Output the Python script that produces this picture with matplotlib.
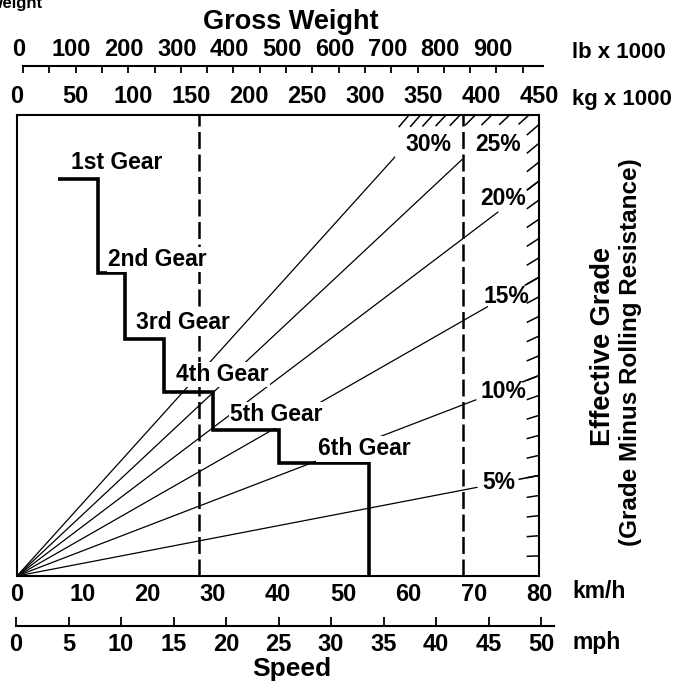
import numpy as np
import matplotlib
matplotlib.use('Agg')
import matplotlib.pyplot as plt
from matplotlib.transforms import ScaledTranslation

plt.rcParams['font.family'] = ['Liberation Sans', 'DejaVu Sans']
plt.rcParams['font.weight'] = 'bold'

FW, FH = 677, 686

# scales (x 1000 for weights)
kg_ticks = list(range(0, 451, 50))
lb_major = list(range(0, 901, 100))
lb_minor = list(range(50, 951, 100))
kmh_ticks = list(range(0, 81, 10))
mph_ticks = list(range(0, 51, 5))

# rimpull chart: gear steps (km/h break points, rimpull per gear)
gear_names = ['1st Gear', '2nd Gear', '3rd Gear', '4th Gear', '5th Gear', '6th Gear']
gear_speed = [6.3, 12.4, 16.6, 22.5, 30.0, 40.2, 53.9]
gear_rimpull = [88.8, 67.6, 53.0, 41.2, 32.7, 25.3]
gear_label_speed = [15.3, 21.5, 25.4, 31.4, 39.8, 53.2]
gear_label_rimpull = [92.4, 70.7, 56.6, 45.0, 36.0, 28.4]

# effective grade lines
grades = [5, 10, 15, 20, 25, 30]
grade_end_kg = [397, 396, 406, 415, 384, 326]
grade_label_kg = [415.5, 419, 421.6, 419, 414.7, 354.3]
grade_label_rimpull = [20.8, 41.2, 62.4, 84.3, 96.4, 96.4]
connector_grades = [5, 10, 15, 20]
connector_start_kg = [433, 436, 438, 440]
scale_grades = list(range(1, 33))

# vertical reference weights
ref_weights_kg = [157, 384.5]

KG_MAX, Y_MAX = 450, 103.0


def rimpull(w, g):
    g = g / 100.0
    return np.asarray(w) * g / np.sqrt(1 + g * g)


def edge_weight(g):
    gg = g / 100.0
    return min(KG_MAX, Y_MAX * np.sqrt(1 + gg * gg) / gg)


def rect(left, top, width, height):
    return [left / FW, (FH - top - height) / FH, width / FW, height / FH]


fig = plt.figure(figsize=(FW / 100, FH / 100), dpi=100)

# main box: weight (kg) horizontally, rimpull vertically
ax = fig.add_axes(rect(17, 115, 522, 461))
ax.set_xlim(0, KG_MAX)
ax.set_ylim(0, Y_MAX)
for s in ax.spines.values():
    s.set_linewidth(1.5)
ax.set_yticks([])
ax.xaxis.tick_top()
ax.set_xticks(kg_ticks)
ax.set_xticklabels([str(t) for t in kg_ticks])
ax.tick_params(axis='x', length=0, pad=5, labelsize=17)

for g, w_end in zip(grades, grade_end_kg):
    w = np.array([0, w_end])
    ax.plot(w, rimpull(w, g), color='black', lw=0.9, solid_capstyle='butt')

for g in scale_grades:
    we = edge_weight(g)
    dw = 10 if we >= KG_MAX else 8.5
    w = np.array([we - dw, we])
    ax.plot(w, rimpull(w, g), color='black', lw=1.1, clip_on=False)

for g, ws in zip(connector_grades, connector_start_kg):
    w = np.array([ws, KG_MAX])
    ax.plot(w, rimpull(w, g), color='black', lw=1.1)

for g, lx, ly in zip(grades, grade_label_kg, grade_label_rimpull):
    ax.text(lx, ly, f'{g}%', ha='center', va='center', fontsize=16.5)

for wk in ref_weights_kg:
    ax.axvline(wk, color='black', lw=1.8, dashes=(6.8, 2.2))

# speed overlay for the gear steps
axs = fig.add_axes(rect(17, 115, 522, 461), frameon=False)
axs.set_xlim(0, 80)
axs.set_ylim(0, Y_MAX)
axs.set_yticks([])
axs.set_xticks(kmh_ticks)
axs.set_xticklabels([str(t) for t in kmh_ticks])
axs.tick_params(axis='x', length=0, pad=5, labelsize=17)

sx = [gear_speed[0]]
sy = [gear_rimpull[0]]
for i, r in enumerate(gear_rimpull):
    sx += [gear_speed[i + 1]]
    sy += [r]
    nxt = gear_rimpull[i + 1] if i + 1 < len(gear_rimpull) else 0
    sx += [gear_speed[i + 1]]
    sy += [nxt]
axs.plot(sx, sy, color='black', lw=2.6, solid_joinstyle='miter', solid_capstyle='butt', zorder=3)

for name, gx, gy in zip(gear_names, gear_label_speed, gear_label_rimpull):
    axs.text(gx, gy, name, ha='center', va='center', fontsize=16.5, zorder=4,
             bbox=dict(facecolor='white', edgecolor='none', pad=1.0))

# lb scale on top
ax_lb = fig.add_axes(rect(23, 66, 520, 0.5))
ax_lb.set_xlim(0, 520 / 0.526)
ax_lb.set_yticks([])
for k in ['left', 'right', 'bottom']:
    ax_lb.spines[k].set_visible(False)
ax_lb.spines['top'].set_linewidth(1.5)
ax_lb.xaxis.tick_top()
ax_lb.set_xticks(lb_major)
ax_lb.set_xticklabels([str(t) for t in lb_major])
ax_lb.set_xticks(lb_minor, minor=True)
ax_lb.tick_params(axis='x', which='both', direction='in', length=5, width=1.3,
                  pad=3.5, labelsize=17)
shift = ScaledTranslation(-4 / 100, 0, fig.dpi_scale_trans)
for lab in ax_lb.get_xticklabels():
    lab.set_transform(lab.get_transform() + shift)

# mph scale at the bottom
ax_mph = fig.add_axes(rect(16, 625.5, 538, 0.5))
ax_mph.set_xlim(0, 50 * 538 / 525)
ax_mph.set_yticks([])
for k in ['left', 'right', 'top']:
    ax_mph.spines[k].set_visible(False)
ax_mph.spines['bottom'].set_linewidth(1.5)
ax_mph.set_xticks(mph_ticks)
ax_mph.set_xticklabels([str(t) for t in mph_ticks])
ax_mph.tick_params(axis='x', direction='in', length=6.5, width=1.3, pad=5, labelsize=17)


def ftext(x, y, s, **kw):
    fig.text(x / FW, 1 - y / FH, s, **kw)


ftext(291, 22, 'Gross Weight', ha='center', va='center', fontsize=19.5)
ftext(572, 52, 'lb x 1000', ha='left', va='center', fontsize=16)
ftext(572, 99, 'kg x 1000', ha='left', va='center', fontsize=16)
ftext(572, 592, 'km/h', ha='left', va='center', fontsize=16.5)
ftext(572, 643, 'mph', ha='left', va='center', fontsize=16.5)
ftext(292, 669, 'Speed', ha='center', va='center', fontsize=19)
ftext(603, 346, 'Effective Grade', ha='center', va='center', rotation=90, fontsize=19.5)
ftext(631, 352, '(Grade Minus Rolling Resistance)', ha='center', va='center',
      rotation=90, fontsize=17.5)
ftext(43, 8, 'Weight', ha='right', va='baseline', fontsize=12)

fig.savefig('out.png', dpi=100)
